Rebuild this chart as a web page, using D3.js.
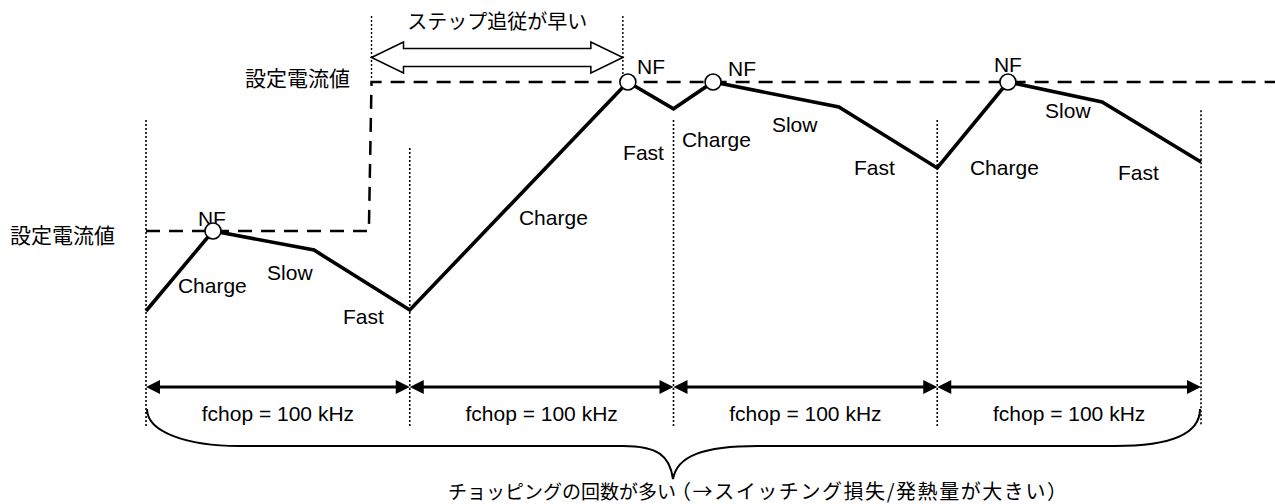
<!DOCTYPE html>
<html><head><meta charset="utf-8">
<script src="https://cdn.jsdelivr.net/npm/d3@7"></script>
<style>
html,body{margin:0;padding:0;background:#fff;}
svg{display:block;}
.lat{font-family:"Liberation Sans",Arial,sans-serif;}
.jp{font-family:"Noto Sans CJK JP","Noto Sans CJK SC",sans-serif;}
</style></head>
<body>
<svg id="c" width="1275" height="504"></svg>
<script>
// ---- data (time in µs, current in relative units) ----
const periodBounds = [0, 10, 20, 30, 40];          // chopping period boundaries (fchop = 100 kHz)
const boundaryTopI = [1.745, 1.557, 1.745, 1.745, 1.81];
const periodLabel = "fchop = 100 kHz";
const setpointT = [0, 8.45, 8.55, 43];
const setpointI = [1.0, 1.0, 2.0, 2.0];
const waveT = [0, 2.54, 6.37, 10, 18.27, 20, 21.5, 26.27, 30, 32.68, 36.25, 40];
const waveI = [0.463, 1.0, 0.872, 0.47, 2.0, 1.82, 2.0, 1.832, 1.423, 2.0, 1.866, 1.463];
const nfT = [2.54, 18.27, 21.5, 32.68];
const nfI = [1.0, 2.0, 2.0, 2.0];
const nfLabelT = [1.97, 18.62, 22.07, 32.15];
const nfLabelI = [1.034, 2.054, 2.040, 2.067];
const segText = ["Charge","Slow","Fast","Charge","Fast","Charge","Slow","Fast","Charge","Slow","Fast"];
const segT = [1.21, 4.59, 7.47, 14.14, 18.09, 20.32, 23.73, 26.84, 31.24, 34.09, 36.85];
const segI = [0.584, 0.671, 0.376, 1.040, 1.477, 1.564, 1.664, 1.376, 1.376, 1.758, 1.342];
const stepRange = [8.55, 18.08];
const stepText = "ステップ追従が早い";
const setLabel = "設定電流値";
const bottomText1 = "チョッピングの回数が多い";
const bottomText2 = "（→スイッチング損失/発熱量が大きい）";

// ---- scales ----
const x = d3.scaleLinear().domain([0, 40]).range([146, 1201]);
const y = d3.scaleLinear().domain([0, 2]).range([380, 82]);

const svg = d3.select("#c");

// period boundary dotted lines
svg.selectAll("line.pb").data(periodBounds).join("line")
  .attr("x1", d => x(d)).attr("x2", d => x(d))
  .attr("y1", (d, i) => y(boundaryTopI[i])).attr("y2", 426)
  .attr("stroke", "#000").attr("stroke-width", 1.6).attr("stroke-dasharray", "2,2");

// step markers dotted
svg.selectAll("line.sm").data(stepRange).join("line")
  .attr("x1", d => x(d)).attr("x2", d => x(d))
  .attr("y1", 16).attr("y2", (d, i) => i === 0 ? 80 : 76)
  .attr("stroke", "#000").attr("stroke-width", 1.4).attr("stroke-dasharray", "2,2");

// setpoint dashed
const sp = setpointT.map((t, i) => [t, setpointI[i]]);
svg.append("path")
  .attr("d", d3.line().x(d => x(d[0])).y(d => y(d[1]))(sp))
  .attr("fill", "none").attr("stroke", "#000").attr("stroke-width", 2.5)
  .attr("stroke-dasharray", "14,9");

// waveform
const wave = waveT.map((t, i) => [t, waveI[i]]);
svg.append("path")
  .attr("d", d3.line().x(d => x(d[0])).y(d => y(d[1]))(wave))
  .attr("fill", "none").attr("stroke", "#000").attr("stroke-width", 3.6)
  .attr("stroke-linejoin", "miter");

// NF labels
svg.selectAll("text.nf").data(nfLabelT).join("text").attr("class", "lat")
  .attr("x", d => x(d)).attr("y", (d, i) => y(nfLabelI[i]))
  .attr("font-size", 21).text("NF");

// NF circles
svg.selectAll("circle.nf").data(nfT).join("circle")
  .attr("cx", d => x(d)).attr("cy", (d, i) => y(nfI[i])).attr("r", 8)
  .attr("fill", "#fff").attr("stroke", "#000").attr("stroke-width", 1.6);

// segment labels
svg.selectAll("text.seg").data(segText).join("text").attr("class", "lat")
  .attr("x", (d, i) => x(segT[i])).attr("y", (d, i) => y(segI[i]))
  .attr("font-size", 21).text(d => d);

// setpoint labels
svg.append("text").attr("class", "jp").attr("x", 115).attr("y", y(1.0) + 3)
  .attr("text-anchor", "end").attr("dominant-baseline", "central")
  .attr("font-size", 21).text(setLabel);
svg.append("text").attr("class", "jp").attr("x", 350).attr("y", y(2.0) - 5.5)
  .attr("text-anchor", "end").attr("dominant-baseline", "central")
  .attr("font-size", 21).text(setLabel);

// step hollow double arrow
{
  const x0 = x(stepRange[0]), x1 = x(stepRange[1]), cy = 57.5;
  const hl = 32, sh = 9, hh = 15.5;
  const pts = [
    [x0, cy], [x0 + hl, cy - hh], [x0 + hl, cy - sh], [x1 - hl, cy - sh], [x1 - hl, cy - hh],
    [x1, cy], [x1 - hl, cy + hh], [x1 - hl, cy + sh], [x0 + hl, cy + sh], [x0 + hl, cy + hh]
  ];
  svg.append("path").attr("d", d3.line()(pts) + "Z")
    .attr("fill", "#fff").attr("stroke", "#000").attr("stroke-width", 1.5);
  svg.append("text").attr("class", "jp").attr("x", (x0 + x1) / 2).attr("y", 20)
    .attr("text-anchor", "middle").attr("dominant-baseline", "central")
    .attr("font-size", 20).text(stepText);
}

// period double arrows (filled heads)
const ay = 387;
for (let i = 0; i < periodBounds.length - 1; i++) {
  const a = x(periodBounds[i]), b = x(periodBounds[i + 1]);
  const hl = 14, hh = 7;
  svg.append("line").attr("x1", a + hl - 1).attr("x2", b - hl + 1).attr("y1", ay).attr("y2", ay)
    .attr("stroke", "#000").attr("stroke-width", 3);
  svg.append("path").attr("d", `M${a},${ay}L${a + hl},${ay - hh}L${a + hl},${ay + hh}Z`).attr("fill", "#000");
  svg.append("path").attr("d", `M${b},${ay}L${b - hl},${ay - hh}L${b - hl},${ay + hh}Z`).attr("fill", "#000");
  svg.append("text").attr("class", "lat").attr("x", (a + b) / 2).attr("y", 421)
    .attr("text-anchor", "middle").attr("font-size", 21).text(periodLabel);
}

// curly brace
{
  const L = x(periodBounds[0]) + 1, R = x(periodBounds[periodBounds.length - 1]) - 1;
  const tip = 673, hy = 446, top = 409, ty = 479;
  const d = `M${L},${top} C${L},${hy - 14} ${L + 40},${hy} ${L + 92},${hy}` +
    ` L${tip - 50},${hy} C${tip - 15},${hy} ${tip - 3},${hy + 10} ${tip},${ty}` +
    ` C${tip + 4},${hy + 10} ${tip + 30},${hy} ${tip + 85},${hy}` +
    ` L${R - 85},${hy} C${R - 30},${hy} ${R},${hy - 12} ${R},${top}`;
  svg.append("path").attr("d", d).attr("fill", "none").attr("stroke", "#000").attr("stroke-width", 2);
}

// bottom text (split at the brace tip)
svg.append("text").attr("class", "jp").attr("x", 676).attr("y", 490)
  .attr("text-anchor", "end").attr("dominant-baseline", "central")
  .attr("font-size", 19).text(bottomText1);
svg.append("text").attr("class", "jp").attr("x", 671).attr("y", 490)
  .attr("dominant-baseline", "central").attr("font-size", 20)
  .attr("textLength", 396).attr("lengthAdjust", "spacing").text(bottomText2);
</script>
</body></html>
